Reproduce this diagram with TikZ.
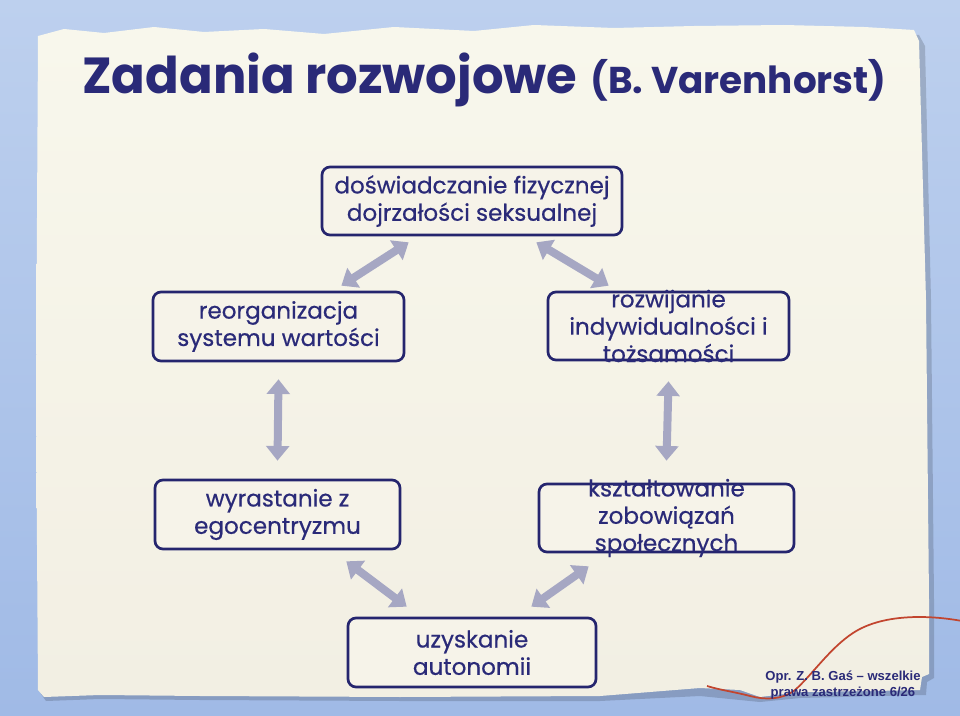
\documentclass[tikz,border=0pt]{standalone}
\usepackage{fontspec}
\setmainfont{Poppins}
\newfontfamily\boxfont{Poppins}[FakeBold=0.5]
\newfontfamily\footfont{Liberation Sans}
\usetikzlibrary{arrows.meta,calc}
\definecolor{bgblue}{HTML}{A0BAE6}
\definecolor{bglight}{HTML}{BDD0EE}
\definecolor{paper}{HTML}{F2EFE3}
\definecolor{paperlight}{HTML}{F8F7EC}
\definecolor{boxfill}{HTML}{F6F3E9}
\definecolor{navy}{HTML}{25256E}
\definecolor{txt}{HTML}{2A2A78}
\definecolor{arrowgrey}{HTML}{A6A7C3}
\definecolor{thread}{HTML}{C2452E}
\tikzset{
  box/.style={draw=navy, line width=2pt, rounded corners=6pt, fill=boxfill},
  boxtext/.style={text=txt, align=center, font=\boxfont\fontsize{17.3}{20.5}\selectfont},
  dbl/.style={draw=arrowgrey, line width=6pt, {Triangle[width=17pt,length=11pt]}-{Triangle[width=17pt,length=11pt]}},
}
\begin{document}
\begin{tikzpicture}[x=0.75pt,y=-0.75pt]
\useasboundingbox (0,0) rectangle (960,716);
% background
\shade[top color=bglight, bottom color=bgblue] (0,0) rectangle (960,716);
% paper shadow
\fill[black, opacity=0.16] (44,38) -- (70,34) -- (110,38) -- (160,32) -- (210,37) -- (270,34) -- (330,38) -- (400,32) -- (480,35) -- (540,30) -- (620,33) -- (700,31) -- (790,30) -- (870,32) -- (919,35) -- (925,46) -- (931,300) -- (934,600) -- (934,678) -- (927,682) -- (926,695) -- (880,696) -- (800,698) -- (760,702) -- (700,696) -- (600,701) -- (400,701) -- (200,700) -- (100,699) -- (46,701) -- (41,694) -- (39,400) -- cycle;
% paper
\shade[top color=paperlight, bottom color=paper] (38,36) -- (64,29) -- (104,33) -- (154,27) -- (204,32) -- (264,29) -- (324,34) -- (394,27) -- (474,31) -- (534,25) -- (614,28) -- (694,26) -- (784,25) -- (864,27) -- (914,30) -- (919,41) -- (926,300) -- (929,600) -- (929,674) -- (922,677) -- (920,690) -- (875,691) -- (800,692) -- (760,697) -- (740,690) -- (700,688) -- (600,696) -- (400,697) -- (200,696) -- (100,695) -- (44,697) -- (38,690) -- (36,400) -- cycle;
% title
\node[anchor=base west, inner sep=0, text=txt, font=\fontsize{38}{40}\selectfont\bfseries] (title) at (82,94) {\scalebox{0.98}[1]{Zadania rozwojowe}};
\node[anchor=base west, inner sep=0, text=txt, font=\fontsize{28}{30}\selectfont\bfseries] (author) at (590,94) {(B. Varenhorst)};
% boxes
\node[box, minimum width=225pt, minimum height=51pt] (top) at (472,201) {};
\node[boxtext] (toptext) at (top) {doświadczanie fizycznej\\dojrzałości seksualnej};
\node[box, minimum width=188.25pt, minimum height=51.75pt] (lm) at (278.5,326.5) {};
\node[boxtext] (lmtext) at (lm) {reorganizacja\\systemu wartości};
\node[box, minimum width=180.75pt, minimum height=51pt] (rm) at (668.5,326) {};
\node[boxtext] (rmtext) at (rm) {rozwijanie\\indywidualności i\\tożsamości};
\node[box, minimum width=183.75pt, minimum height=51.75pt] (ll) at (277.5,514.5) {};
\node[boxtext] (lltext) at (ll) {wyrastanie z\\egocentryzmu};
\node[box, minimum width=191.25pt, minimum height=51pt] (rl) at (666.5,518) {};
\node[boxtext] (rltext) at (rl) {kształtowanie\\zobowiązań\\społecznych};
\node[box, minimum width=186pt, minimum height=51.75pt] (bot) at (472,652.5) {};
\node[boxtext] (bottext) at (bot) {uzyskanie\\autonomii};
% arrows
\draw[dbl] ($(top.south west)+(88,6)$) -- ($(lm.north east)+(-64,-5)$);
\draw[dbl] ($(top.south east)+(-87,6)$) -- ($(rm.north west)+(62,-5)$);
\draw[dbl] ($(lm.south)+(0,17)$) -- ($(ll.north)+(0,-18)$);
\draw[dbl] ($(rm.south)+(0,20)$) -- ($(rl.north)+(0,-22)$);
\draw[dbl] ($(ll.south east)+(-55,11)$) -- ($(bot.north west)+(60,-10)$);
\draw[dbl] ($(rl.south west)+(51,13)$) -- ($(bot.north east)+(-66,-10)$);
% thread
\draw[thread, line width=1.3pt] (962,621) .. controls (935,616) and (885,612) .. (853,633) .. controls (830,648) and (812,675) .. (795,690) .. controls (782,700) and (765,700) .. (750,696) .. controls (735,692) and (720,690) .. (707,686);
% footer
\node[text=txt, align=center, font=\footfont\fontsize{9.8}{12}\selectfont\bfseries] (foot) at (843,685) {Opr. Z. B. Gaś – wszelkie\\prawa zastrzeżone 6/26};
\end{tikzpicture}
\end{document}
